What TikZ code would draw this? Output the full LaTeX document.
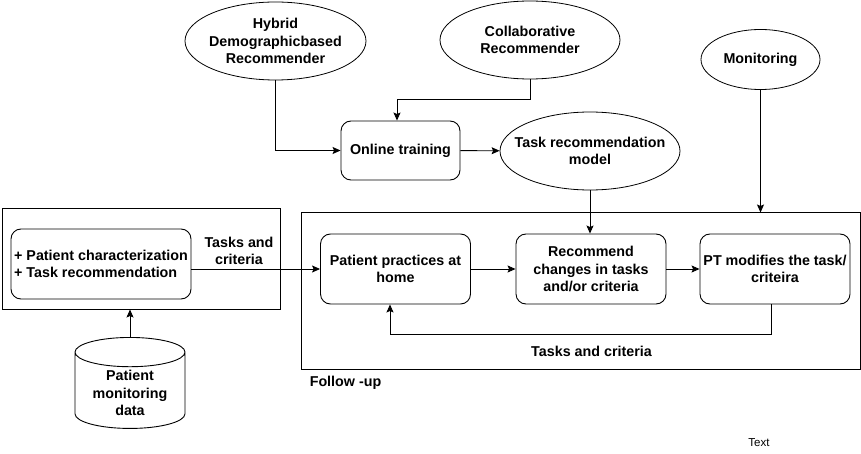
\documentclass[tikz,border=0pt]{standalone}
\usepackage{fontspec}
\setmainfont{Liberation Sans}
\usetikzlibrary{arrows.meta,calc,positioning,shapes.geometric}
\definecolor{Ink}{HTML}{000000}
\tikzset{
  stage/.style={
    rounded corners=10pt, draw=Ink, line width=0.9pt,
    minimum width=150pt, minimum height=70pt, inner sep=1pt, align=center
  },
  source/.style={
    ellipse, draw=Ink, line width=0.8pt,
    inner xsep=-25pt, inner ysep=-8pt, align=center
  },
  store/.style={
    cylinder, shape border rotate=90, draw=Ink, line width=0.9pt,
    minimum width=110pt, minimum height=91pt, shape aspect=0.36, align=center
  },
  frame/.style={draw=Ink, line width=1pt},
  flow/.style={-{Stealth[length=8pt,width=7pt,inset=1.5pt]}, line width=0.9pt, draw=Ink}
}

\begin{document}
\begin{tikzpicture}[x=1pt,y=-1pt,font=\fontsize{14.3}{17.2}\selectfont\bfseries]
  \useasboundingbox[fill=white] (0,0) rectangle (861,454);
  % recommenders and training
  \node[source,minimum width=181pt,minimum height=78pt] (hybrid) at (275.5,41) {Hybrid\\Demographicbased\\Recommender};
  \node[source,minimum width=180pt,minimum height=78pt] (collab) at (530,40) {Collaborative\\Recommender};
  \node[source,minimum width=119pt,minimum height=60pt] (monitor) at (760.5,59.5) {Monitoring};
  \node[stage,minimum width=119pt,minimum height=59pt] (online) at (400.5,150.5) {Online training};
  \node[source,minimum width=180pt,minimum height=78pt] (model) at (590,151) {Task recommendation\\model};
  % first visit
  \node[frame,minimum width=278pt,minimum height=100pt] (plan) at (141,259) {};
  \node[stage,minimum width=180pt,minimum height=70pt,align=left] (charact) at (101,264) {+ Patient characterization\\+ Task recommendation};
  \node[store] (data) at (130,393) {Patient\\monitoring\\data};
  \node (planlbl) at (239,251) [align=center] {Tasks and\\criteria};
  % follow-up
  \node[frame,minimum width=559pt,minimum height=156pt] (follow) at (580.5,291) {};
  \node[stage] (practice) at (395.5,269) {Patient practices at\\home};
  \node[stage] (change) at (591,269) {Recommend\\changes in tasks\\and/or criteria};
  \node[stage] (modify) at (775,269) {PT modifies the task/\\criteira};
  \node (looplbl) at (591.5,351) {Tasks and criteria};
  \node (followlbl) at (345.5,383) {Follow -up};
  \node[font=\fontsize{11.5}{14}\selectfont] (txt) at (759,443) {Text};

  \draw[flow] (hybrid.south) |- (online.west);
  \draw[flow] (collab.south) -- ++(0,20) -| ([xshift=-3.5pt]online.north);
  \draw[flow] (online) -- (model);
  \draw[flow] (model.south) -- (model.south |- change.north);
  \draw[flow] (monitor) -- (monitor |- follow.north);
  \draw[flow] (data.north) -- (data.north |- plan.south);
  \draw[flow] (charact.east |- practice.west) -- (practice.west);
  \draw[flow] (practice) -- (change);
  \draw[flow] (change) -- (modify);
  \draw[flow] ([xshift=-4pt]modify.south) -- ++(0,30) -| ([xshift=-5.5pt]practice.south);
\end{tikzpicture}
\end{document}
